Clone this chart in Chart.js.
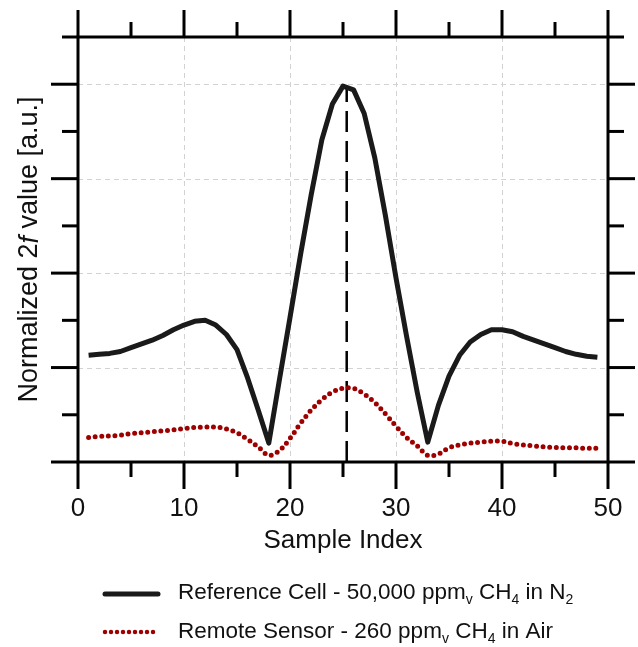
<!DOCTYPE html>
<html>
<head>
<meta charset="utf-8">
<script src="https://cdn.jsdelivr.net/npm/chart.js@4.4.1/dist/chart.umd.min.js"></script>
<style>
  html, body { margin: 0; padding: 0; background: #fff; }
  #wrap { width: 638px; height: 647px; }
</style>
</head>
<body>
<div id="wrap"><canvas id="chart"></canvas></div>
<script>
// sample positions along the scan
const sampleIndex = [1, 2, 3, 4, 5, 6, 7, 8, 9, 10, 11, 12, 13, 14, 15, 16, 17, 18, 19, 20,
  21, 22, 23, 24, 25, 26, 27, 28, 29, 30, 31, 32, 33, 34, 35, 36, 37, 38, 39, 40,
  41, 42, 43, 44, 45, 46, 47, 48, 49]

// 50,000 ppmv CH4 reference cell
const referenceCell = [1.13, 1.14, 1.15, 1.17, 1.21, 1.25, 1.29, 1.34, 1.40, 1.45,
  1.49, 1.50, 1.45, 1.35, 1.19, 0.89, 0.55, 0.20, 0.87, 1.53,
  2.20, 2.83, 3.41, 3.79, 3.98, 3.94, 3.69, 3.22, 2.61, 1.95,
  1.33, 0.74, 0.21, 0.60, 0.91, 1.13, 1.27, 1.35, 1.40, 1.40,
  1.38, 1.33, 1.29, 1.25, 1.21, 1.17, 1.14, 1.12, 1.11]

// 260 ppmv CH4 remote sensor
const remoteSensor = [0.26, 0.27, 0.275, 0.285, 0.30, 0.31, 0.32, 0.33, 0.34, 0.355,
  0.365, 0.37, 0.37, 0.35, 0.31, 0.24, 0.16, 0.07, 0.12, 0.25,
  0.41, 0.55, 0.66, 0.74, 0.78, 0.78, 0.72, 0.63, 0.51, 0.38,
  0.26, 0.17, 0.07, 0.085, 0.15, 0.18, 0.20, 0.21, 0.22, 0.22,
  0.195, 0.18, 0.17, 0.16, 0.155, 0.15, 0.15, 0.145, 0.145]

// dashed marker at the peak: [x, top y]
const peakMarker = [25.35, 3.98]

const xTicks = [0, 10, 20, 30, 40, 50]
const xMinorTicks = [5, 15, 25, 35, 45]
const yTicks = [0, 1, 2, 3, 4]
const yMinorTicks = [0.5, 1.5, 2.5, 3.5, 4.5]

const FONT = "'Liberation Sans', Arial, Helvetica, sans-serif"
const RED = "#9e0000"
const BLACK = "#1a1a1a"

const frame = {
  id: "frame",
  beforeDatasetsDraw(chart) {
    const {ctx, chartArea: {left, right, top, bottom}, scales: {x, y}} = chart
    ctx.save()
    ctx.strokeStyle = "#d2d2d2"
    ctx.lineWidth = 1
    ctx.setLineDash([5, 4])
    xTicks.slice(1, -1).forEach(v => {
      let px = Math.round(x.getPixelForValue(v)) + 0.5
      ctx.beginPath()
      ctx.moveTo(px, top)
      ctx.lineTo(px, bottom)
      ctx.stroke()
    })
    yTicks.slice(1).forEach(v => {
      let py = Math.round(y.getPixelForValue(v)) + 0.5
      ctx.beginPath()
      ctx.moveTo(left, py)
      ctx.lineTo(right, py)
      ctx.stroke()
    })
    ctx.restore()
  },
  afterDraw(chart) {
    const {ctx, chartArea: {left, right, top, bottom}, scales: {x, y}} = chart
    ctx.save()
    ctx.strokeStyle = "#000"
    ctx.lineWidth = 3
    ctx.strokeRect(left, top, right - left, bottom - top)

    const tick = (x1, y1, x2, y2) => {
      ctx.beginPath()
      ctx.moveTo(x1, y1)
      ctx.lineTo(x2, y2)
      ctx.stroke()
    }
    xTicks.forEach(v => {
      let px = x.getPixelForValue(v)
      tick(px, bottom, px, bottom + 27)
      tick(px, top, px, top - 27)
    })
    xMinorTicks.forEach(v => {
      let px = x.getPixelForValue(v)
      tick(px, bottom, px, bottom + 15)
      tick(px, top, px, top - 15)
    })
    yTicks.forEach(v => {
      let py = y.getPixelForValue(v)
      tick(left, py, left - 27, py)
      tick(right, py, right + 27, py)
    })
    yMinorTicks.forEach(v => {
      let py = y.getPixelForValue(v)
      tick(left, py, left - 16, py)
      tick(right, py, right + 16, py)
    })

    // axis titles
    ctx.fillStyle = "#111"
    ctx.textBaseline = "middle"
    ctx.textAlign = "center"
    ctx.font = "26px " + FONT
    ctx.fillText("Sample Index", (left + right) / 2, 541)

    ctx.save()
    ctx.translate(30, (top + bottom) / 2)
    ctx.rotate(-Math.PI / 2)
    ctx.textAlign = "left"
    const parts = [["Normalized 2", "27px " + FONT], ["f", "italic 27px " + FONT], [" value [a.u.]", "27px " + FONT]]
    let total = 0
    parts.forEach(p => { ctx.font = p[1]; total += ctx.measureText(p[0]).width })
    let cx = -total / 2
    parts.forEach(p => { ctx.font = p[1]; ctx.fillText(p[0], cx, 0); cx += ctx.measureText(p[0]).width })
    ctx.restore()

    // legend
    ctx.lineWidth = 5
    ctx.strokeStyle = BLACK
    ctx.lineCap = "round"
    tick(105, 594, 158, 594)
    ctx.strokeStyle = RED
    ctx.lineWidth = 4.5
    ctx.setLineDash([0, 6])
    tick(105, 632, 158, 632)
    ctx.setLineDash([])

    const rich = (segs, x0, y0) => {
      let cx = x0
      segs.forEach(s => {
        let sub = s[1]
        ctx.font = (sub ? "14px " : "22.5px ") + FONT
        ctx.fillText(s[0], cx, y0 + (sub ? 7 : 0))
        cx += ctx.measureText(s[0]).width
      })
    }
    ctx.textAlign = "left"
    ctx.fillStyle = "#111"
    rich([["Reference Cell - 50,000 ppm", false], ["v", true], [" CH", false], ["4", true], [" in N", false], ["2", true]], 178, 593)
    rich([["Remote Sensor - 260 ppm", false], ["v", true], [" CH", false], ["4", true], [" in Air", false]], 178, 632)
    ctx.restore()
  }
}

const config = {
  type: "line",
  data: {
    datasets: [
      {
        label: "Reference Cell - 50,000 ppmv CH4 in N2",
        data: sampleIndex.map((s, i) => ({x: s, y: referenceCell[i]})),
        borderColor: BLACK,
        borderWidth: 5,
        borderJoinStyle: "round",
        pointRadius: 0,
        tension: 0,
      },
      {
        label: "Remote Sensor - 260 ppmv CH4 in Air",
        data: sampleIndex.map((s, i) => ({x: s, y: remoteSensor[i]})),
        borderColor: RED,
        borderWidth: 5,
        borderDash: [0, 6.6],
        borderCapStyle: "round",
        pointRadius: 0,
        tension: 0.35,
      },
      {
        label: "peak",
        data: [{x: peakMarker[0], y: 0}, {x: peakMarker[0], y: peakMarker[1]}],
        borderColor: "#000",
        borderWidth: 2.5,
        borderDash: [21, 9],
        pointRadius: 0,
      },
    ]
  },
  options: {
    responsive: true,
    maintainAspectRatio: false,
    animation: false,
    devicePixelRatio: 1,
    layout: { padding: { top: 37, right: 30, left: 0, bottom: 0 } },
    scales: {
      x: {
        type: "linear",
        min: 0,
        max: 50,
        grid: { display: false, drawTicks: false },
        border: { display: false },
        ticks: {
          stepSize: 10,
          padding: 31,
          color: "#111",
          font: { family: FONT, size: 26 },
        },
        afterFit(scale) {
          scale.height = 647 - 462
          scale.paddingLeft = 0
          scale.paddingRight = 0
        },
      },
      y: {
        min: 0,
        max: 4.5,
        grid: { display: false, drawTicks: false },
        border: { display: false },
        ticks: { display: false, stepSize: 0.5 },
        afterFit(scale) { scale.width = 78 },
      },
    },
    plugins: {
      legend: { display: false },
      tooltip: { enabled: false },
    },
  },
  plugins: [frame],
}

new Chart(document.getElementById("chart"), config)
</script>
</body>
</html>
